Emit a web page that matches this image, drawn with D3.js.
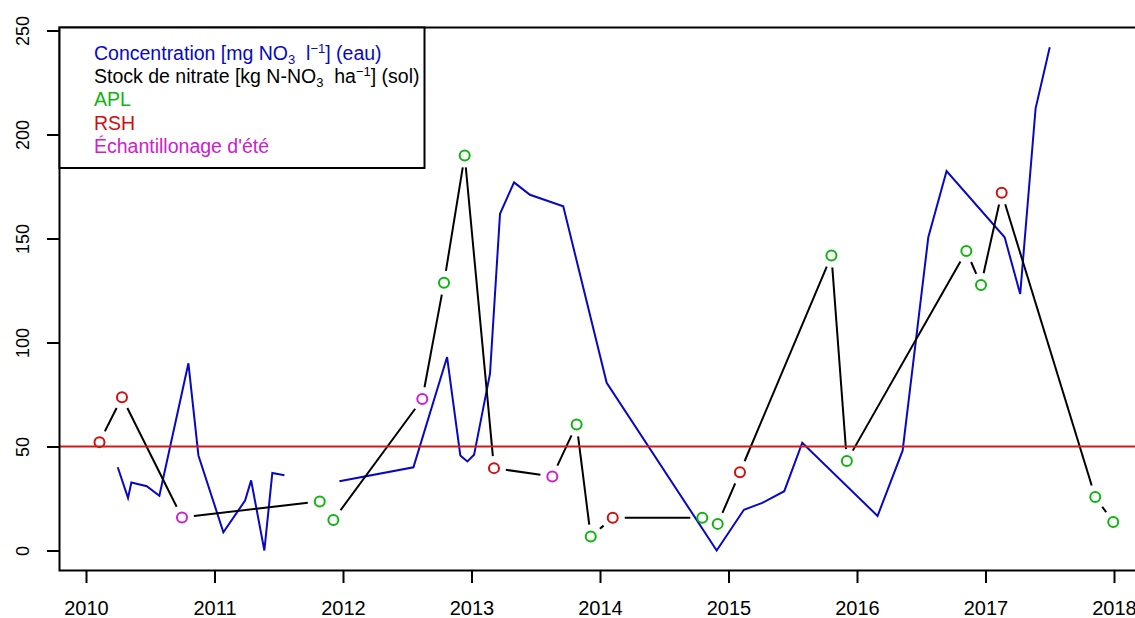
<!DOCTYPE html>
<html>
<head>
<meta charset="utf-8">
<script src="https://cdn.jsdelivr.net/npm/d3@7"></script>
<style>
  body { margin: 0; background: #fff; }
  text { font-family: "Liberation Sans", Arial, sans-serif; }
</style>
</head>
<body>
<svg id="chart" width="1135" height="618"></svg>
<script>
// Nitrate concentration in water (mg NO3 / l); null = no sampling
const concYears = [
  2010.247, 2010.327, 2010.353, 2010.473, 2010.571, 2010.797, 2010.875,
  2011.069, 2011.238, 2011.285, 2011.388, 2011.450, 2011.544,
  null,
  2011.972, 2012.548, 2012.810, 2012.913, 2012.968, 2013.020, 2013.144,
  2013.222, 2013.331, 2013.455, 2013.714, 2014.052, 2014.908, 2015.120,
  2015.263, 2015.434, 2015.574, 2016.160, 2016.355, 2016.555, 2016.697,
  2017.149, 2017.270, 2017.390, 2017.500
];
const concValues = [
  40, 25.3, 32.7, 30.9, 26.3, 90, 45.7,
  8.8, 24, 33.7, 0, 37.3, 36.2,
  null,
  33.3, 40, 93, 45.7, 42.8, 46, 85,
  161.9, 177, 171, 165.5, 80.6, 0, 19.6,
  22.9, 28.5, 51.8, 16.6, 48, 150.6, 182.4,
  150.6, 123.3, 212.6, 241.9
];

// Soil nitrate stock (kg N-NO3 / ha) and sampling campaign
const stockYears = [
  2010.105, 2010.280, 2010.747, 2011.819, 2011.925, 2012.617, 2012.786,
  2012.947, 2013.175, 2013.629, 2013.818, 2013.928, 2014.099, 2014.796,
  2014.916, 2015.089, 2015.801, 2015.921, 2016.851, 2016.965, 2017.126,
  2017.854, 2017.994
];
const stockValues = [
  52.1, 73.7, 15.9, 23.6, 14.7, 72.8, 128.7,
  189.9, 39.6, 35.6, 60.6, 6.7, 15.7, 15.7,
  12.8, 37.6, 141.8, 43, 144, 127.7, 172,
  25.7, 13.7
];
const stockTypes = [
  "RSH", "RSH", "ETE", "APL", "APL", "ETE", "APL",
  "APL", "RSH", "ETE", "APL", "APL", "RSH", "APL",
  "APL", "RSH", "APL", "APL", "APL", "APL", "RSH",
  "APL", "APL"
];

const yearTicks = [2010, 2011, 2012, 2013, 2014, 2015, 2016, 2017, 2018];
const valueTicks = [0, 50, 100, 150, 200, 250];
const threshold = 50;

const colConc = "#0808C4";
const colStock = "#000000";
const typeColors = { APL: "#10B410", RSH: "#CD1010", ETE: "#CD20CD" };
const colThreshold = "#D41818";

const svg = d3.select("#chart");
svg.append("rect").attr("width", 1135).attr("height", 618).attr("fill", "#fff");

const x = d3.scaleLinear().domain([2010, 2018]).range([86, 1114]);
const y = d3.scaleLinear().domain([0, 250]).range([550.5, 30.5]);

const box = { left: 59.5, right: 1160, top: 27.5, bottom: 570.5 };

// concentration line (gaps where sampling stopped)
const concData = concYears.map((t, i) => ({ t, v: concValues[i] }));
const line = d3.line()
  .defined(d => d.t !== null && d.v !== null)
  .x(d => x(d.t)).y(d => y(d.v));
svg.append("path")
  .datum(concData)
  .attr("d", line)
  .attr("fill", "none")
  .attr("stroke", colConc)
  .attr("stroke-width", 2)
  .attr("stroke-linejoin", "miter");

// soil stock: segments between points, leaving a gap around each circle
const stock = stockYears.map((t, i) => ({ px: x(t), py: y(stockValues[i]), type: stockTypes[i] }));
const gap = 12;
const segs = [];
for (let i = 0; i < stock.length - 1; i++) {
  const a = stock[i], b = stock[i + 1];
  const dx = b.px - a.px, dy = b.py - a.py;
  const len = Math.hypot(dx, dy);
  if (len <= 2 * gap) continue;
  const ux = dx / len, uy = dy / len;
  segs.push([a.px + ux * gap, a.py + uy * gap, b.px - ux * gap, b.py - uy * gap]);
}
svg.append("g").selectAll("line").data(segs).join("line")
  .attr("x1", d => d[0]).attr("y1", d => d[1])
  .attr("x2", d => d[2]).attr("y2", d => d[3])
  .attr("stroke", colStock).attr("stroke-width", 2);

svg.append("g").selectAll("circle").data(stock).join("circle")
  .attr("cx", d => d.px).attr("cy", d => d.py).attr("r", 5)
  .attr("fill", "none")
  .attr("stroke", d => typeColors[d.type])
  .attr("stroke-width", 2);

// threshold at 50 mg/l
svg.append("line")
  .attr("x1", box.left).attr("x2", 1135)
  .attr("y1", y(threshold)).attr("y2", y(threshold))
  .attr("stroke", colThreshold).attr("stroke-width", 2);

// plot frame
svg.append("path")
  .attr("d", `M${box.right},${box.top}H${box.left}V${box.bottom}H${box.right}`)
  .attr("fill", "none").attr("stroke", "#000").attr("stroke-width", 2);

// axes
const xAxis = svg.append("g")
  .attr("transform", `translate(0,${box.bottom})`)
  .call(d3.axisBottom(x).tickValues(yearTicks).tickFormat(d3.format("d")).tickSize(12.5).tickPadding(18));
xAxis.select(".domain").remove();
xAxis.selectAll("line").attr("stroke", "#000").attr("stroke-width", 2);
xAxis.selectAll("text").attr("font-size", 20).attr("fill", "#000")
  .attr("font-family", "Liberation Sans, Arial, sans-serif");

const yAxis = svg.append("g")
  .attr("transform", `translate(${box.left},0)`)
  .call(d3.axisLeft(y).tickValues(valueTicks).tickSize(12.5).tickFormat(d3.format("d")));
yAxis.select(".domain").remove();
yAxis.selectAll("line").attr("stroke", "#000").attr("stroke-width", 2);
yAxis.selectAll("text").remove();
yAxis.selectAll(".tick").append("text")
  .attr("transform", "translate(-30.5,0) rotate(-90)")
  .attr("text-anchor", "middle")
  .attr("font-size", 18)
  .attr("fill", "#000")
  .text(d => d3.format("d")(d));

// legend
const legend = svg.append("g");
legend.append("rect")
  .attr("x", 59.5).attr("y", 27.5).attr("width", 365).attr("height", 140.5)
  .attr("fill", "#fff").attr("stroke", "#000").attr("stroke-width", 2);

const legendRows = [
  { color: colConc, parts: [["Concentration [mg NO"], ["3", "sub"], ["  l"], ["\u22121", "sup"], ["] (eau)"]] },
  { color: colStock, parts: [["Stock de nitrate [kg N-NO"], ["3", "sub"], ["  ha"], ["\u22121", "sup"], ["] (sol)"]] },
  { color: typeColors.APL, parts: [["APL"]] },
  { color: typeColors.RSH, parts: [["RSH"]] },
  { color: typeColors.ETE, parts: [["\u00C9chantillonage d'\u00E9t\u00E9"]] }
];
legendRows.forEach((row, i) => {
  const t = legend.append("text")
    .attr("x", 94).attr("y", 60 + i * 23.2)
    .attr("font-size", 19.5).attr("fill", row.color)
    .attr("xml:space", "preserve");
  let shift = 0;
  row.parts.forEach(([s, kind]) => {
    const target = kind === "sub" ? 4 : kind === "sup" ? -7 : 0;
    t.append("tspan")
      .attr("dy", target - shift)
      .attr("font-size", kind ? 13 : 19.5)
      .text(s);
    shift = target;
  });
});
</script>
</body>
</html>
